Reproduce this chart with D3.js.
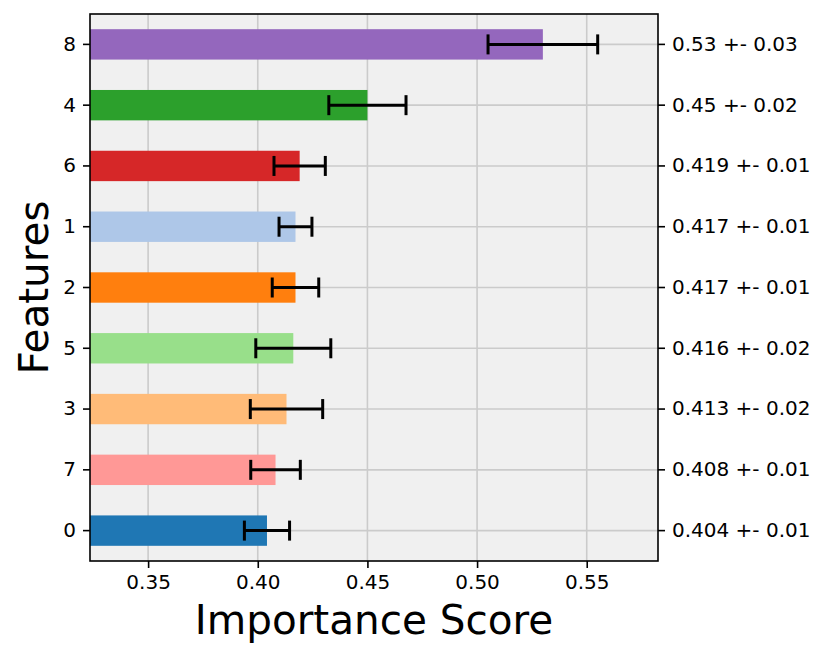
<!DOCTYPE html>
<html>
<head>
<meta charset="utf-8">
<script src="https://cdn.jsdelivr.net/npm/d3@7"></script>
<style>
  body { margin: 0; background: #ffffff; }
  text { font-family: "DejaVu Sans", sans-serif; fill: #000; }
</style>
</head>
<body>
<div id="vis"></div>
<script>
// data, bottom row first
const FEATURES = ["0", "7", "3", "5", "2", "1", "6", "4", "8"];
const SCORES = [0.4042, 0.4081, 0.4131, 0.4162, 0.4172, 0.4172, 0.4191, 0.450, 0.530];
const ERRORS = [0.0103, 0.0113, 0.0165, 0.0171, 0.0106, 0.0075, 0.0117, 0.0176, 0.025];
const SCORE_LABELS = ["0.404 +- 0.01", "0.408 +- 0.01", "0.413 +- 0.02", "0.416 +- 0.02",
                      "0.417 +- 0.01", "0.417 +- 0.01", "0.419 +- 0.01", "0.45 +- 0.02", "0.53 +- 0.03"];
const COLORS = ["#1f77b4", "#ff9896", "#ffbb78", "#98df8a", "#ff7f0e", "#aec7e8", "#d62728", "#2ca02c", "#9467bd"];
const X_TICKS = [0.35, 0.40, 0.45, 0.50, 0.55];
const X_DOMAIN = [0.3235, 0.5825];

const FRAME_HEIGHT = 659;
const FRAME_WIDTH = 830;
const MARGINS = {left: 90, right: 172, top: 14, bottom: 98};

const VIS_HEIGHT = FRAME_HEIGHT - MARGINS.top - MARGINS.bottom;
const VIS_WIDTH = FRAME_WIDTH - MARGINS.left - MARGINS.right;

const FRAME = d3.select("#vis")
    .append("svg")
    .attr("height", FRAME_HEIGHT)
    .attr("width", FRAME_WIDTH);

const data = FEATURES.map((f, i) => ({feature: f, score: SCORES[i], err: ERRORS[i],
                                      label: SCORE_LABELS[i], color: COLORS[i]}));

const X_SCALE = d3.scaleLinear().domain(X_DOMAIN).range([0, VIS_WIDTH]);

// rows from bottom (index 0) to top
const Y_SCALE = d3.scaleBand()
    .domain(FEATURES)
    .range([VIS_HEIGHT, 0])
    .paddingInner(0.5)
    .paddingOuter(0.25);

const G = FRAME.append("g")
    .attr("transform", "translate(" + MARGINS.left + "," + MARGINS.top + ")");

G.append("rect")
    .attr("width", VIS_WIDTH)
    .attr("height", VIS_HEIGHT)
    .attr("fill", "#f0f0f0");

// grid
G.append("g")
    .selectAll("line")
    .data(X_TICKS)
    .enter()
    .append("line")
        .attr("x1", d => X_SCALE(d))
        .attr("x2", d => X_SCALE(d))
        .attr("y1", 0)
        .attr("y2", VIS_HEIGHT)
        .attr("stroke", "#cbcbcb")
        .attr("stroke-width", 1.6);

G.append("g")
    .selectAll("line")
    .data(data)
    .enter()
    .append("line")
        .attr("x1", 0)
        .attr("x2", VIS_WIDTH)
        .attr("y1", d => Y_SCALE(d.feature) + Y_SCALE.bandwidth() / 2)
        .attr("y2", d => Y_SCALE(d.feature) + Y_SCALE.bandwidth() / 2)
        .attr("stroke", "#cbcbcb")
        .attr("stroke-width", 1.6);

// bars
G.selectAll(".bar")
    .data(data)
    .enter()
    .append("rect")
        .attr("class", "bar")
        .attr("x", X_SCALE(X_DOMAIN[0]))
        .attr("y", d => Y_SCALE(d.feature))
        .attr("width", d => X_SCALE(d.score) - X_SCALE(X_DOMAIN[0]))
        .attr("height", Y_SCALE.bandwidth())
        .attr("fill", d => d.color);

// error bars
const ERR = G.selectAll(".err")
    .data(data)
    .enter()
    .append("g")
        .attr("class", "err")
        .attr("transform", d => "translate(0," + (Y_SCALE(d.feature) + Y_SCALE.bandwidth() / 2) + ")");

ERR.append("line")
    .attr("x1", d => X_SCALE(d.score - d.err))
    .attr("x2", d => X_SCALE(d.score + d.err))
    .attr("stroke", "#000")
    .attr("stroke-width", 3);

ERR.append("line")
    .attr("x1", d => X_SCALE(d.score - d.err))
    .attr("x2", d => X_SCALE(d.score - d.err))
    .attr("y1", -10).attr("y2", 10)
    .attr("stroke", "#000")
    .attr("stroke-width", 3);

ERR.append("line")
    .attr("x1", d => X_SCALE(d.score + d.err))
    .attr("x2", d => X_SCALE(d.score + d.err))
    .attr("y1", -10).attr("y2", 10)
    .attr("stroke", "#000")
    .attr("stroke-width", 3);

// frame
G.append("rect")
    .attr("width", VIS_WIDTH)
    .attr("height", VIS_HEIGHT)
    .attr("fill", "none")
    .attr("stroke", "#000")
    .attr("stroke-width", 1.6);

// axes
function styleAxis(g) {
    g.select(".domain").remove();
    g.selectAll(".tick line").attr("stroke", "#000").attr("stroke-width", 1.6);
    g.selectAll(".tick text").style("font-size", "20px").style("font-family", "DejaVu Sans");
}

G.append("g")
    .attr("transform", "translate(0," + VIS_HEIGHT + ")")
    .call(d3.axisBottom(X_SCALE).tickValues(X_TICKS).tickFormat(d3.format(".2f"))
        .tickSizeOuter(0).tickSize(7).tickPadding(7))
    .call(styleAxis);

G.append("g")
    .call(d3.axisLeft(Y_SCALE).tickSizeOuter(0).tickSize(7).tickPadding(7))
    .call(styleAxis);

// right side: score label for each feature row
G.append("g")
    .attr("transform", "translate(" + VIS_WIDTH + ",0)")
    .call(d3.axisRight(Y_SCALE)
        .tickFormat(f => SCORE_LABELS[FEATURES.indexOf(f)])
        .tickSizeOuter(0).tickSize(7).tickPadding(7))
    .call(styleAxis);

// axis titles
FRAME.append("text")
    .attr("x", MARGINS.left + VIS_WIDTH / 2)
    .attr("y", 634)
    .attr("text-anchor", "middle")
    .style("font-size", "40.5px")
    .text("Importance Score");

FRAME.append("text")
    .attr("transform", "translate(48," + (MARGINS.top + VIS_HEIGHT / 2) + ") rotate(-90)")
    .attr("text-anchor", "middle")
    .style("font-size", "40.5px")
    .text("Features");
</script>
</body>
</html>
